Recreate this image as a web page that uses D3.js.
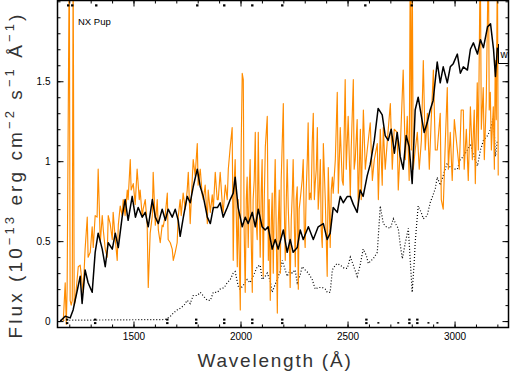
<!DOCTYPE html>
<html>
<head>
<meta charset="utf-8">
<script src="https://cdn.jsdelivr.net/npm/d3@7"></script>
<style>
  body { margin: 0; background: #fff; }
  svg { display: block; }
  text { font-family: "Liberation Sans", Arial, sans-serif; }
</style>
</head>
<body>
<svg id="chart"></svg>
<script>
const width = 510;
const height = 372;
const plotLeft = 57.5, plotRight = 508.5, plotTop = 0.5, plotBottom = 327.5;

// tick labels
const xTicks = [1500, 2000, 2500, 3000];
const yTicks = [0, 0.5, 1, 1.5];

// smoothed spectrum (black solid)
const blackWave = [1158,1181,1204,1218,1237,1251,1260,1274,1288,1307,1321,1335,1354,1368,1382,1401,1415,1429,1447,1461,
  1475,1494,1509,1522,1541,1555,1569,1588,1602,1616,1634,1649,1662,1681,1695,1709,1718,1733,1751,1765,
  1779,1798,1812,1826,1845,1859,1873,1892,1905,1919,1938,1952,1966,1975,1989,2008,2022,2036,2055,2069,
  2083,2101,2115,2129,2148,2162,2176,2200,2218,2232,2246,2265,2279,2293,2317,2340,2363,2387,2405,2419,
  2433,2452,2466,2480,2499,2513,2527,2545,2559,2573,2592,2606,2625,2643,2662,2676,2690,2704,2719,2732,
  2746,2760,2774,2788,2802,2816,2830,2844,2858,2872,2886,2900,2919,2933,2947,2966,2980,2994,3013,3027,
  3041,3060,3074,3088,3107,3121,3135,3154,3168,3182,3191,3200];
const blackFlux = [0.00,0.03,0.02,0.07,0.19,0.28,0.11,0.32,0.24,0.18,0.43,0.55,0.45,0.34,0.49,0.45,0.55,0.46,0.65,0.76,
  0.63,0.78,0.65,0.71,0.65,0.68,0.59,0.76,0.65,0.61,0.70,0.63,0.70,0.65,0.70,0.63,0.53,0.65,0.78,0.74,
  0.84,0.95,0.84,0.78,0.65,0.61,0.71,0.71,0.74,0.65,0.71,0.76,0.80,0.90,0.71,0.59,0.65,0.61,0.68,0.59,
  0.70,0.59,0.57,0.59,0.45,0.51,0.45,0.57,0.43,0.51,0.43,0.46,0.57,0.51,0.59,0.51,0.59,0.61,0.51,0.55,
  0.71,0.68,0.78,0.74,0.78,0.78,0.73,0.68,0.82,0.78,0.91,0.98,1.13,1.33,1.29,1.16,1.13,1.20,1.05,1.18,
  1.03,0.95,1.16,1.09,0.86,1.32,1.40,1.29,1.18,1.24,1.32,1.38,1.62,1.49,1.59,1.49,1.59,1.61,1.67,1.55,
  1.59,1.57,1.70,1.74,1.67,1.76,1.71,1.84,1.86,1.70,1.53,1.71];

// noisy spectrum (orange)
const orangeWave = [1172,1181,1186,1190,1200,1204,1209,1214,1218,1223,1228,1242,1251,1260,1265,1274,1284,1288,1298,1307,
  1312,1321,1330,1335,1345,1354,1359,1368,1377,1382,1391,1401,1405,1415,1424,1429,1438,1447,1452,1461,
  1471,1475,1485,1489,1499,1508,1517,1527,1531,1541,1545,1555,1564,1569,1578,1588,1592,1602,1611,1616,
  1625,1634,1639,1648,1658,1662,1672,1681,1686,1695,1704,1709,1718,1723,1732,1742,1751,1756,1765,1770,
  1779,1788,1798,1802,1812,1821,1826,1835,1845,1849,1859,1868,1873,1882,1891,1896,1905,1915,1919,1929,
  1938,1943,1952,1961,1966,1971,1975,1985,1989,1999,2003,2008,2013,2017,2022,2027,2031,2036,2041,2045,
  2050,2055,2059,2064,2069,2073,2078,2083,2087,2092,2097,2101,2106,2111,2116,2125,2130,2134,2139,2144,
  2148,2153,2158,2162,2167,2172,2176,2181,2186,2190,2200,2204,2209,2214,2218,2223,2228,2232,2237,2242,
  2246,2251,2256,2260,2265,2270,2274,2279,2288,2293,2298,2302,2307,2312,2316,2321,2326,2330,2335,2340,
  2345,2349,2354,2359,2363,2368,2373,2377,2382,2387,2396,2405,2410,2415,2419,2424,2429,2433,2443,2452,
  2457,2466,2475,2480,2489,2494,2503,2513,2517,2527,2531,2536,2545,2550,2560,2564,2574,2583,2592,2606,
  2616,2625,2639,2644,2653,2662,2667,2676,2686,2700,2709,2718,2732,2737,2746,2760,2770,2779,2788,2793,
  2798,2802,2807,2816,2826,2835,2845,2854,2863,2873,2882,2891,2901,2910,2919,2933,2938,2947,2957,2966,
  2971,2980,2989,2999,3013,3022,3031,3041,3045,3055,3064,3074,3083,3092,3097,3106,3111,3120,3125,3134,
  3139,3148,3158,3162,3167,3172,3181,3186,3190,3195,3200,3204];
const orangeFlux = [0.00,0.24,-0.02,0.20,2.30,0.13,0.10,0.13,2.30,0.10,0.13,0.34,0.35,0.24,0.18,0.45,0.65,0.40,0.43,0.59,
  0.46,0.66,0.65,0.95,0.49,0.66,0.57,0.45,0.40,0.66,0.61,0.51,0.68,0.51,0.38,0.60,0.72,0.66,0.76,0.66,
  0.82,0.76,1.01,0.82,0.86,0.73,0.95,0.76,0.82,0.65,0.70,0.76,0.60,0.21,0.55,0.66,0.93,0.60,0.76,0.57,
  0.49,0.60,0.59,0.66,0.80,0.51,0.49,0.45,0.38,0.43,0.49,0.65,0.76,0.66,0.80,0.70,0.82,0.93,0.61,0.76,
  1.01,0.91,1.11,0.85,0.95,0.79,0.76,0.85,0.61,0.82,0.68,0.79,0.70,0.93,0.76,0.76,0.93,0.73,0.68,0.85,
  0.76,0.95,1.09,1.21,0.38,0.88,1.01,0.34,0.76,0.07,1.07,1.55,1.51,0.57,0.18,0.76,0.90,0.46,0.82,1.01,
  0.51,0.18,0.76,0.88,1.18,0.63,0.51,1.18,0.76,0.40,0.82,1.01,0.28,0.76,1.09,1.28,0.38,0.76,0.13,0.63,
  0.80,0.30,0.76,1.01,0.57,0.05,0.59,0.82,0.30,0.88,1.36,0.76,0.38,0.76,1.01,0.71,0.51,0.21,0.63,0.80,
  1.01,0.63,0.34,0.76,0.84,0.20,0.70,0.76,0.88,1.01,0.57,0.46,0.82,1.01,1.24,0.76,0.80,0.76,1.11,1.30,
  0.76,0.86,0.95,1.21,0.70,0.82,1.01,0.57,0.46,1.11,0.76,0.28,0.96,0.70,0.46,0.82,0.90,0.80,1.01,1.43,
  0.80,1.21,0.88,0.85,1.51,0.95,1.28,0.78,1.07,1.51,0.95,1.01,1.26,0.72,1.20,0.76,1.32,0.95,1.07,1.24,
  0.88,1.01,1.11,0.76,1.20,0.85,1.21,0.95,1.13,1.36,0.95,1.20,1.18,0.82,1.07,1.57,1.01,1.28,0.88,2.30,
  1.07,2.30,0.95,1.07,1.18,0.95,1.13,1.63,1.07,1.30,0.95,1.26,1.57,1.07,1.07,1.30,0.76,0.70,1.13,1.46,
  0.95,1.18,0.88,1.26,1.07,0.95,1.32,1.32,0.95,1.20,0.88,1.34,1.01,1.32,0.86,1.49,1.07,2.30,1.20,1.46,
  1.01,1.38,2.30,1.32,1.43,1.07,1.34,0.95,1.63,1.26,2.30,0.91];

// comparison spectrum (black dotted)
const dotWave = [1158,1649,1672,1686,1704,1718,1737,1751,1765,1779,1798,1812,1831,1845,1859,1873,1892,1905,1924,1938,
  1952,1966,1975,1989,1998,2017,2031,2045,2059,2078,2092,2101,2115,2125,2139,2148,2162,2171,2185,2195,
  2209,2218,2232,2241,2255,2265,2279,2288,2302,2317,2335,2349,2363,2382,2396,2405,2419,2429,2443,2452,
  2466,2485,2499,2513,2527,2545,2559,2573,2588,2597,2611,2620,2639,2653,2667,2681,2700,2714,2728,2737,
  2746,2756,2770,2784,2793,2802,2812,2816,2830,2844,2854,2872,2886,2900,2910,2919,2933,2947,2966,2980,
  2994,3013,3027,3041,3060,3074,3088,3107,3121,3135,3154,3168,3182,3191,3200];
const dotFlux = [0.005,0.01,0.03,0.05,0.07,0.08,0.10,0.13,0.11,0.16,0.16,0.18,0.15,0.13,0.13,0.18,0.18,0.20,0.21,0.24,
  0.26,0.30,0.31,0.22,0.20,0.23,0.26,0.24,0.28,0.34,0.35,0.26,0.28,0.30,0.25,0.18,0.23,0.26,0.31,0.38,
  0.32,0.28,0.32,0.30,0.32,0.24,0.29,0.34,0.32,0.30,0.26,0.20,0.21,0.21,0.20,0.18,0.18,0.32,0.35,0.36,
  0.35,0.33,0.33,0.40,0.35,0.28,0.35,0.45,0.41,0.36,0.38,0.39,0.43,0.72,0.61,0.59,0.58,0.64,0.60,0.58,
  0.48,0.39,0.49,0.58,0.38,0.18,0.38,0.49,0.72,0.68,0.64,0.66,0.74,0.79,0.83,0.90,0.85,0.91,0.99,0.96,
  0.95,0.95,1.01,1.03,1.07,1.11,1.04,0.97,1.07,1.13,1.16,1.20,1.28,1.03,1.13];

// flag marks along the bottom and top edges (wavelengths)
const flagsBottom = [1190, 1321, 1658, 1793, 1924, 2055, 2195, 2588, 2789, 2826];
const flagsBottomSmall = [2644, 2737, 2878, 2920];
const flagsTop = [1195, 1214, 1326, 1798, 1924, 2055, 2195, 2583, 2800];

const svg = d3.select('#chart').attr('width', width).attr('height', height);

const x = d3.scaleLinear().domain([1145, 3252]).range([plotLeft, plotRight]);
const y = d3.scaleLinear().domain([-0.04, 2.005]).range([plotBottom, plotTop]);

svg.append('clipPath').attr('id', 'clip')
  .append('rect')
  .attr('x', plotLeft).attr('y', plotTop)
  .attr('width', plotRight - plotLeft).attr('height', plotBottom - plotTop);

const plot = svg.append('g').attr('clip-path', 'url(#clip)');
const line = d3.line().x(d => x(d[0])).y(d => y(d[1]));
const zip = (a, b) => a.map((v, i) => [v, b[i]]).filter(d => d[1] !== undefined);

plot.append('path')
  .datum(zip(dotWave, dotFlux))
  .attr('d', line)
  .attr('fill', 'none')
  .attr('stroke', '#000')
  .attr('stroke-width', 1.2)
  .attr('stroke-dasharray', '1 2');

plot.append('path')
  .datum(zip(orangeWave, orangeFlux))
  .attr('d', line)
  .attr('fill', 'none')
  .attr('stroke', '#ff8c00')
  .attr('stroke-width', 1.15)
  .attr('stroke-linejoin', 'round');

plot.append('path')
  .datum(zip(blackWave, blackFlux))
  .attr('d', line)
  .attr('fill', 'none')
  .attr('stroke', '#000')
  .attr('stroke-width', 1.5)
  .attr('stroke-linejoin', 'round');

// flag marks
flagsBottom.forEach(w => {
  [-1.5, 2].forEach(off => {
    plot.append('rect').attr('x', x(w) - 1.2).attr('y', y(0) + off - 1)
      .attr('width', 2.4).attr('height', 2).attr('fill', '#000');
  });
});
flagsBottomSmall.forEach(w => {
  plot.append('rect').attr('x', x(w) - 1).attr('y', y(0) + 1)
    .attr('width', 2).attr('height', 1.5).attr('fill', '#000');
});
flagsTop.forEach(w => {
  plot.append('rect').attr('x', x(w) - 1.2).attr('y', y(1.975) - 1)
    .attr('width', 2.4).attr('height', 2.2).attr('fill', '#000');
});

// axes, ticks pointing inward on all sides
const minorX = d3.range(1200, 3300, 100);
const minorY = d3.range(0, 2.01, 0.1).map(v => +v.toFixed(1));
const noDomain = g => g.select('.domain').remove();

svg.append('g').attr('transform', `translate(0,${plotBottom})`)
  .call(d3.axisBottom(x).tickValues(minorX).tickSize(-3).tickFormat('')).call(noDomain);
svg.append('g').attr('transform', `translate(0,${plotBottom})`)
  .call(d3.axisBottom(x).tickValues(xTicks).tickSize(-6).tickPadding(5).tickFormat(d3.format('d')))
  .call(noDomain);
svg.append('g').attr('transform', `translate(0,${plotTop})`)
  .call(d3.axisTop(x).tickValues(minorX).tickSize(-3).tickFormat('')).call(noDomain);
svg.append('g').attr('transform', `translate(0,${plotTop})`)
  .call(d3.axisTop(x).tickValues(xTicks).tickSize(-6).tickFormat('')).call(noDomain);

svg.append('g').attr('transform', `translate(${plotLeft},0)`)
  .call(d3.axisLeft(y).tickValues(minorY).tickSize(-3).tickFormat('')).call(noDomain);
svg.append('g').attr('transform', `translate(${plotLeft},0)`)
  .call(d3.axisLeft(y).tickValues(yTicks).tickSize(-6).tickPadding(7).tickFormat(d => d))
  .call(noDomain);
svg.append('g').attr('transform', `translate(${plotRight},0)`)
  .call(d3.axisRight(y).tickValues(minorY).tickSize(-3).tickFormat('')).call(noDomain);
svg.append('g').attr('transform', `translate(${plotRight},0)`)
  .call(d3.axisRight(y).tickValues(yTicks).tickSize(-6).tickFormat('')).call(noDomain);

svg.selectAll('.tick text')
  .attr('font-family', '"Liberation Sans", Arial, sans-serif')
  .attr('font-size', 10)
  .attr('fill', '#000');

// frame
svg.append('rect')
  .attr('x', plotLeft).attr('y', plotTop)
  .attr('width', plotRight - plotLeft).attr('height', plotBottom - plotTop)
  .attr('fill', 'none').attr('stroke', '#000').attr('stroke-width', 1.5);

// object name
svg.append('text').attr('x', 78).attr('y', 25)
  .attr('font-size', 9.5).attr('fill', '#000').text('NX Pup');

// cut-off box at the right edge
svg.append('path')
  .attr('d', `M${plotRight},63.5H498.5V44`)
  .attr('fill', 'none').attr('stroke', '#000').attr('stroke-width', 1);
svg.append('text').attr('x', 500.5).attr('y', 58)
  .attr('font-size', 10).attr('fill', '#000').text('w');

// axis titles
const xTitle = svg.append('text')
  .attr('x', 275).attr('y', 367)
  .attr('text-anchor', 'middle')
  .attr('font-size', 19).attr('fill', '#333')
  .text('Wavelength (Å)');

const yTitle = svg.append('text')
  .attr('transform', 'translate(22,175) rotate(-90)')
  .attr('text-anchor', 'middle')
  .attr('font-size', 19).attr('fill', '#333');

const parts = [['Flux (10', false], ['−13', true], [' erg cm', false], ['−2', true], [' s', false],
  ['−1', true], [' Å', false], ['−1', true], [')', false]];
let raised = false;
parts.forEach(([t, sup]) => {
  const ts = yTitle.append('tspan').text(t);
  if (sup) {
    ts.attr('font-size', 13).attr('dy', raised ? 0 : -8);
    raised = true;
  } else {
    ts.attr('dy', raised ? 8 : 0);
    raised = false;
  }
});

function fitLength(sel, target) {
  const node = sel.node();
  const n = node.textContent.length;
  const len = node.getComputedTextLength();
  sel.attr('letter-spacing', ((target - len) / n).toFixed(2));
}
fitLength(xTitle, 155);
fitLength(yTitle, 327);
</script>
</body>
</html>
